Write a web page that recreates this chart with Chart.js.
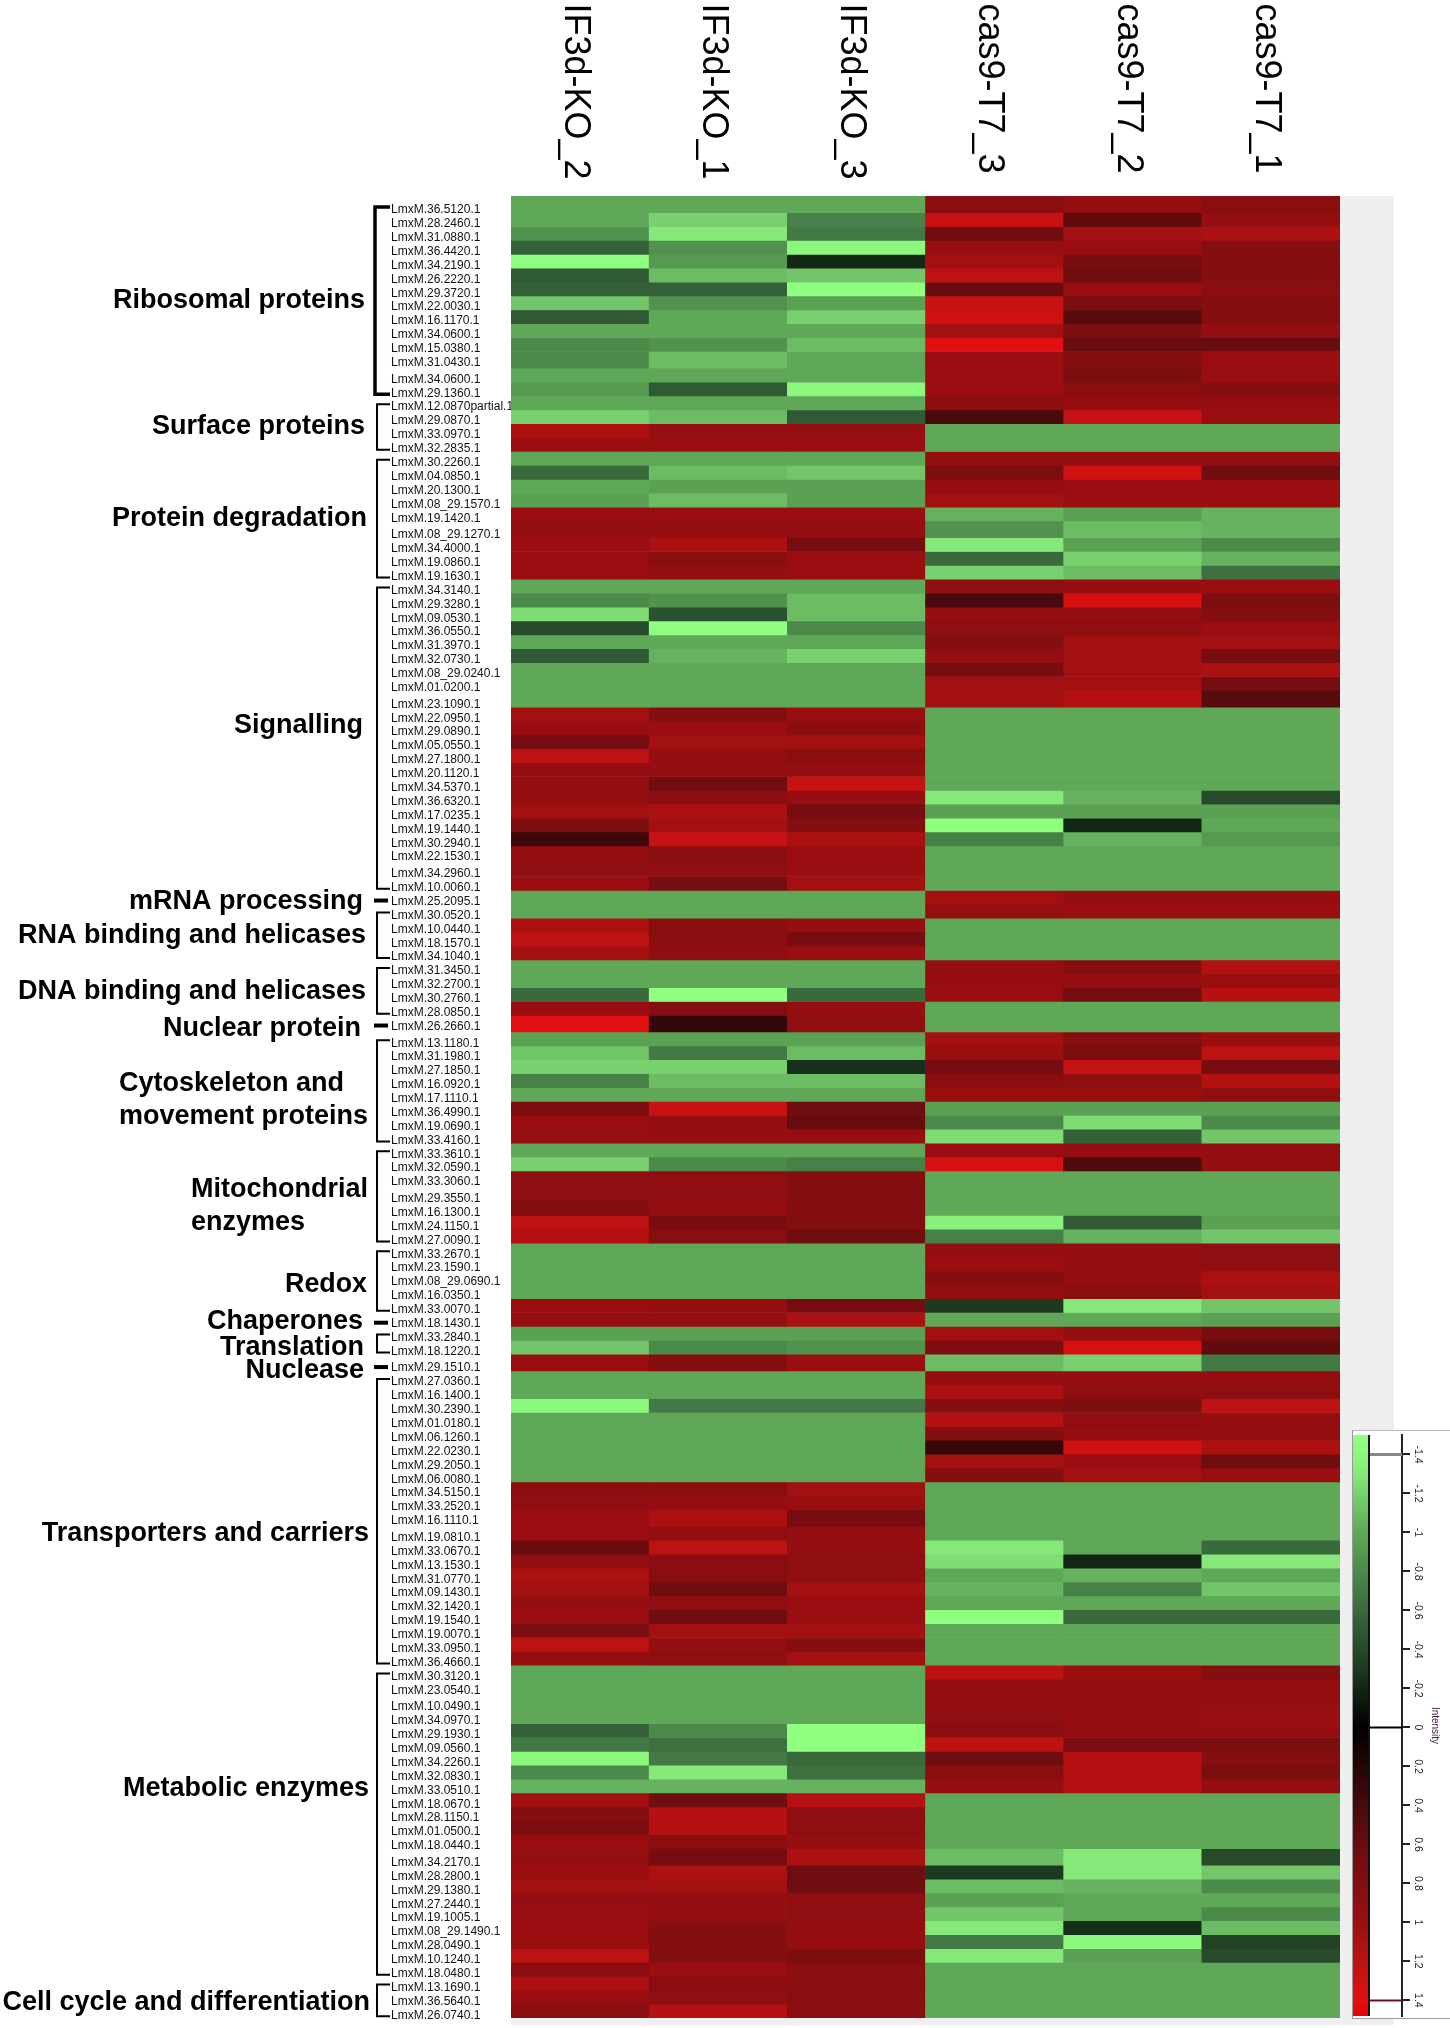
<!DOCTYPE html>
<html><head><meta charset="utf-8"><title>Heatmap</title>
<script src="https://cdn.jsdelivr.net/npm/chart.js@4"></script>
<style>
html,body{margin:0;padding:0;background:#fff}
#wrap{position:relative;width:1450px;height:2028px;overflow:hidden}
#panel{position:absolute;left:511px;top:196px;width:883px;height:1829px;background:#efefef}
#main{position:absolute;left:0;top:0}
#legendBox{position:absolute;left:1352px;top:1430px;width:98px;height:589px;background:#fff;border-left:1px solid #999;border-top:1px solid #bbb;border-bottom:1px solid #999;box-sizing:border-box}
#legend{position:absolute;left:0;top:0}
</style></head><body>
<div id="wrap"><div id="panel"></div><canvas id="main" width="1450" height="2028"></canvas>
<div id="legendBox"><canvas id="legend" width="97" height="587"></canvas></div></div>
<script>
const samples=["IF3d-KO_2","IF3d-KO_1","IF3d-KO_3","cas9-T7_3","cas9-T7_2","cas9-T7_1"];
const groupNames=["Ribosomal proteins","Surface proteins","Protein degradation","Signalling","mRNA processing","RNA binding and helicases","DNA binding and helicases","Nuclear protein","Cytoskeleton and\nmovement proteins","Mitochondrial\nenzymes","Redox","Chaperones","Translation","Nuclease","Transporters and carriers","Metabolic enzymes","Cell cycle and differentiation"];

const genesRibosomal=["36.5120.1","28.2460.1","31.0880.1","36.4420.1","34.2190.1","26.2220.1","29.3720.1","22.0030.1","16.1170.1","34.0600.1","15.0380.1","31.0430.1","34.0600.1","29.1360.1"];
const valuesRibosomal=[[-1,-1,-1,.85,.95,.85],[-1,-1.2,-.75,1.25,.55,.95],[-.85,-1.3,-.7,.65,1.05,1.1],[-.55,-.85,-1.4,.95,1,.8],[-1.45,-.9,-.2,1.05,.7,.8],[-.5,-1.1,-1.15,1.2,.65,.8],[-.55,-.55,-1.45,.6,1,.85],[-1.15,-.85,-.95,1.25,.75,.8],[-.5,-1,-1.2,1.3,.5,.8],[-1,-1,-1,1.05,.75,.95],[-.8,-.85,-1.1,1.4,.6,.6],[-.8,-1.1,-1,1,.8,1],[-1,-1,-1,1,.75,1],[-.9,-.5,-1.4,1,.85,.8]];
const genesSurface=["12.0870partial.1","29.0870.1","33.0970.1","32.2835.1"];
const valuesSurface=[[-1,-1,-1,.85,.95,.95],[-1.2,-1.1,-.5,.4,1.25,1],[1.1,.95,.95,-1,-1,-1],[1,1,1,-1,-1,-1]];
const genesDegradation=["30.2260.1","04.0850.1","20.1300.1","08_29.1570.1","19.1420.1","08_29.1270.1","34.4000.1","19.0860.1","19.1630.1"];
const valuesDegradation=[[-1,-1,-1,.95,.95,.95],[-.6,-1.1,-1.15,.75,1.3,.65],[-1,-.95,-.95,.95,1,1],[-.95,-1.1,-.95,1.05,1,1],[1,1,1,-1.05,-.95,-1.05],[.95,.95,.95,-.85,-1.1,-1.05],[1,1.1,.7,-1.3,-.95,-.8],[1,.85,1,-.6,-1.2,-1.05],[1,.95,1,-1.2,-1.1,-.65]];
const genesSignalling=["34.3140.1","29.3280.1","09.0530.1","36.0550.1","31.3970.1","32.0730.1","08_29.0240.1","01.0200.1","23.1090.1","22.0950.1","29.0890.1","05.0550.1","27.1800.1","20.1120.1","34.5370.1","36.6320.1","17.0235.1","19.1440.1","30.2940.1","22.1530.1","34.2960.1","10.0060.1"];
const valuesSignalling=[[-1,-1,-1,.9,.95,1],[-.8,-.85,-1.1,.4,1.35,.75],[-1.25,-.45,-1.1,.95,.95,.8],[-.4,-1.45,-.8,.9,.9,1],[-1,-1,-1,.8,1.05,1.05],[-.5,-1.05,-1.2,.95,1.05,.7],[-1,-1,-1,.7,1.05,1.1],[-1,-1,-1,1.05,1.05,.7],[-1,-1,-1,1.05,1.15,.5],[1.05,.8,1,-1,-1,-1],[1,1,.85,-1,-1,-1],[.7,1.05,1.05,-1,-1,-1],[1.2,.95,.85,-1,-1,-1],[.95,.95,.95,-1,-1,-1],[.95,.65,1.25,-1,-1,-1],[.95,.85,.95,-1.3,-1.05,-.4],[1.05,1.1,.7,-.95,-.95,-.95],[.75,1.05,.8,-1.45,-.2,-1],[.35,1.25,1.1,-.75,-1.05,-.9],[.95,.85,1,-1,-1,-1],[.9,.9,1,-1,-1,-1],[1,.7,1.05,-1,-1,-1]];
const genesMrna=["25.2095.1"];
const valuesMrna=[[-1,-1,-1,1.05,.95,.95]];
const genesRna=["30.0520.1","10.0440.1","18.1570.1","34.1040.1"];
const valuesRna=[[-1,-1,-1,.95,1,1],[1.1,.85,.95,-1,-1,-1],[1.2,.85,.7,-1,-1,-1],[1.05,.9,1,-1,-1,-1]];
const genesDna=["31.3450.1","32.2700.1","30.2760.1","28.0850.1"];
const valuesDna=[[-1,-1,-1,.95,.8,1.15],[-1,-1,-1,.95,.95,1],[-.6,-1.45,-.6,1,.7,1.15],[1,.8,.95,-1,-1,-1]];
const genesNuclear=["26.2660.1"];
const valuesNuclear=[[1.4,.3,.9,-1,-1,-1]];
const genesCyto=["13.1180.1","31.1980.1","27.1850.1","16.0920.1","17.1110.1","36.4990.1","19.0690.1","33.4160.1"];
const valuesCyto=[[-.95,-.95,-.95,1.05,.8,1],[-1.15,-.7,-1.1,1,.75,1.2],[-1.2,-1.2,-.25,.7,1.25,.7],[-.75,-1.1,-1.1,.85,.9,1.15],[-1,-1,-1,1,1,.9],[.75,1.25,.65,-.95,-.95,-.95],[1,.95,.6,-.8,-1.25,-.8],[.95,.95,.95,-1.25,-.55,-1.15]];
const genesMito=["33.3610.1","32.0590.1","33.3060.1","29.3550.1","16.1300.1","24.1150.1","27.0090.1"];
const valuesMito=[[-1,-1,-1,1,.95,.95],[-1.2,-.8,-.75,1.35,.45,.95],[.9,.9,.8,-1,-1,-1],[.9,.9,.8,-1,-1,-1],[.8,.95,.8,-1,-1,-1],[1.2,.7,.8,-1.35,-.5,-.95],[1.15,.85,.65,-.75,-1.05,-1.15]];
const genesRedox=["33.2670.1","23.1590.1","08_29.0690.1","16.0350.1","33.0070.1"];
const valuesRedox=[[-1,-1,-1,.95,.95,.9],[-1,-1,-1,1,.95,.9],[-1,-1,-1,.8,.95,1.1],[-1,-1,-1,.95,.85,1.05],[1,.95,.7,-.3,-1.3,-1.15]];
const genesChaperones=["18.1430.1"];
const valuesChaperones=[[.95,.95,1.1,-1,-1,-.95]];
const genesTranslation=["33.2840.1","18.1220.1"];
const valuesTranslation=[[-.95,-.95,-.95,1.05,.95,.7],[-1.15,-.8,-.85,.75,1.35,.55]];
const genesNuclease=["29.1510.1"];
const valuesNuclease=[[1,.8,1,-1.1,-1.2,-.7]];
const genesTransporters=["27.0360.1","16.1400.1","30.2390.1","01.0180.1","06.1260.1","22.0230.1","29.2050.1","06.0080.1","34.5150.1","33.2520.1","16.1110.1","19.0810.1","33.0670.1","13.1530.1","31.0770.1","09.1430.1","32.1420.1","19.1540.1","19.0070.1","33.0950.1","36.4660.1"];
const valuesTransporters=[[-1,-1,-1,.95,.95,.95],[-1,-1,-1,1.1,.9,.9],[-1.4,-.7,-.7,.8,.75,1.2],[-1,-1,-1,1.15,.9,.95],[-1,-1,-1,.8,.95,.95],[-1,-1,-1,.3,1.3,1.1],[-1,-1,-1,1.05,1,.65],[-1,-1,-1,.8,1.05,1],[.85,.85,1.05,-1,-1,-1],[.9,.95,1,-1,-1,-1],[1,1.1,.7,-1,-1,-1],[1,.9,.95,-1,-1,-1],[.6,1.2,.95,-1.3,-1,-.6],[.9,.85,.9,-1.25,-.2,-1.3],[1.1,.85,.9,-1,-1.05,-1],[1.05,.65,1.05,-1.05,-.75,-1.15],[.95,.9,1,-1,-1,-1],[1,.65,1,-1.45,-.6,-.6],[.75,1.05,1.05,-1,-1,-1],[1.2,.95,.8,-1,-1,-1],[.95,.9,1.05,-1,-1,-1]];
const genesMetabolic=["30.3120.1","23.0540.1","10.0490.1","34.0970.1","29.1930.1","09.0560.1","34.2260.1","32.0830.1","33.0510.1","18.0670.1","28.1150.1","01.0500.1","18.0440.1","34.2170.1","28.2800.1","29.1380.1","27.2440.1","19.1005.1","08_29.1490.1","28.0490.1","10.1240.1","18.0480.1"];
const valuesMetabolic=[[-1,-1,-1,1.2,1,.8],[-1,-1,-1,.95,.95,.95],[-1,-1,-1,.95,.95,.95],[-1,-1,-1,.9,.95,1],[-.55,-.8,-1.45,.85,.95,.95],[-.7,-.65,-1.45,1.2,.75,.75],[-1.4,-.7,-.6,.65,1.15,.8],[-.8,-1.3,-.65,.85,1.15,.75],[-1.05,-1.05,-1.05,.95,1.15,.95],[1.05,.65,1.15,-1,-1,-1],[.8,1.15,.9,-1,-1,-1],[.75,1.15,.9,-1,-1,-1],[1,.85,.95,-1,-1,-1],[.95,.7,1.1,-1.1,-1.3,-.4],[1,1.1,.65,-.3,-1.3,-1.15],[1.05,1.05,.65,-1.1,-1.05,-.8],[.95,.95,.9,-.95,-1,-1],[1,.95,.9,-1.15,-1,-.8],[1,.8,.95,-1.3,-.25,-1.1],[1,.8,.95,-.7,-1.4,-.35],[1.2,.8,.75,-1.3,-.95,-.4],[.85,1,.85,-1,-1,-1]];
const genesCellCycle=["13.1690.1","36.5640.1","26.0740.1"];
const valuesCellCycle=[[1.1,.85,.85,-1,-1,-1],[1,.9,.85,-1,-1,-1],[.85,1.15,.85,-1,-1,-1]];
const legendTicks=[-1.4,-1.2,-1,-.8,-.6,-.4,-.2,0,.2,.4,.6,.8,1,1.2,1.4];
const legendMarks=[-1.4,0,1.4];

const groupGenes=[genesRibosomal,genesSurface,genesDegradation,genesSignalling,genesMrna,genesRna,genesDna,genesNuclear,genesCyto,genesMito,genesRedox,genesChaperones,genesTranslation,genesNuclease,genesTransporters,genesMetabolic,genesCellCycle];
const groupValues=[valuesRibosomal,valuesSurface,valuesDegradation,valuesSignalling,valuesMrna,valuesRna,valuesDna,valuesNuclear,valuesCyto,valuesMito,valuesRedox,valuesChaperones,valuesTranslation,valuesNuclease,valuesTransporters,valuesMetabolic,valuesCellCycle];
const genes=groupGenes.flat().map(g=>"LmxM."+g);
const matrix=groupValues.flat();

/* layout only: row pitch quirks of the source figure */
const tallRows=new Set([0,11,23,35,46,58,69,82,93,105,117]);
const lowLabelRows=new Set([0,23,35,82,117]);
const rowSpan=i=>tallRows.has(i)?1.2:1;
const rowStart=[];let total=0;genes.forEach((g,i)=>{rowStart.push(total);total+=rowSpan(i);});
const labelPos=i=>rowStart[i]+(lowLabelRows.has(i)?1:.805);

const greenStops=[[0,[0,0,0]],[.3,[28,58,32]],[.5,[47,90,51]],[.65,[63,112,64]],[.8,[75,138,75]],[.9,[85,154,80]],[1,[95,168,88]],[1.1,[108,188,99]],[1.2,[120,208,111]],[1.3,[133,232,120]],[1.45,[144,255,128]],[1.5,[147,255,130]]];
const redStops=[[0,[0,0,0]],[.4,[72,10,12]],[.65,[112,13,16]],[.85,[138,14,16]],[1,[154,14,18]],[1.1,[172,17,18]],[1.25,[198,18,18]],[1.4,[224,16,16]],[1.5,[230,0,0]]];
function ramp(v){const s=v<0?greenStops:redStops,a=Math.abs(v);
 for(let i=1;i<s.length;i++){if(a<=s[i][0]){const t=(a-s[i-1][0])/(s[i][0]-s[i-1][0]);
  const c=s[i-1][1].map((q,k)=>Math.round(q+(s[i][1][k]-q)*t));return `rgb(${c[0]},${c[1]},${c[2]})`;}}
 const l=s[s.length-1][1];return `rgb(${l[0]},${l[1]},${l[2]})`;}

const font='"Liberation Sans", Arial, sans-serif';
/* [x, anchor, y, fitted width] for each line of the group captions */
const captionLayout=[
 [[365,'right',300.5,253]],[[365,'right',426.5,214]],[[367,'right',518.5,257]],[[363,'right',725.5,131]],
 [[363,'right',901.5,236]],[[366,'right',935.5,350]],[[366,'right',992,350]],[[361,'right',1028.5,198]],
 [[119,'left',1083.5,226],[119,'left',1116.5,250]],[[191,'left',1189.5,178],[191,'left',1222.5,114]],
 [[367,'right',1284.5,82]],[[363,'right',1321.5,162]],[[364,'right',1347.5,145]],[[364,'right',1370.5,120]],
 [[369,'right',1534,330]],[[369,'right',1788.5,247]],[[370,'right',2002.5,368]]];

const annotate={id:'annotate',afterDraw(chart){
 const c=chart.ctx,y=chart.scales.y;let first=0;
 c.save();c.fillStyle='#000';c.strokeStyle='#000';c.textBaseline='middle';c.font='bold 27px '+font;
 groupGenes.forEach((g,gi)=>{
  const last=first+g.length-1,y0=y.getPixelForValue(labelPos(first)),y1=y.getPixelForValue(labelPos(last));
  const lw=gi===0?3.5:2;
  if(g.length===1){c.fillRect(374,y0-3,14,4);}
  else{const xv=gi===0?375:377;c.lineWidth=lw;c.beginPath();c.moveTo(390,y0-3);c.lineTo(xv,y0-3);c.lineTo(xv,y1+1);c.lineTo(390,y1+1);c.stroke();}
  groupNames[gi].split("\n").forEach((line,li)=>{const [x,anchor,py,w]=captionLayout[gi][li];c.textAlign=anchor;c.fillText(line,x,py,w);});
  first=last+1;});
 c.restore();}};

const datasets=matrix.map((row,i)=>({label:genes[i],intensity:row,data:samples.map(()=>rowSpan(i)),backgroundColor:row.map(ramp),borderWidth:0,barPercentage:1,categoryPercentage:1}));
new Chart(document.getElementById('main'),{type:'bar',data:{labels:samples,datasets},plugins:[annotate],options:{
 responsive:false,animation:false,devicePixelRatio:1,
 layout:{padding:{left:391,right:110,top:0,bottom:10}},
 plugins:{legend:{display:false},title:{display:false},tooltip:{enabled:false}},
 scales:{
  x:{type:'category',position:'top',stacked:true,grid:{display:false},border:{display:false},
   ticks:{font:{family:font,size:36},color:'#000',minRotation:-90,maxRotation:-90,padding:184.5,labelOffset:-48.5,autoSkip:false},
   afterFit(s){s.height=196;s.paddingLeft=0;s.paddingRight=0;}},
  y:{type:'linear',position:'left',stacked:true,reverse:true,min:0,max:total,grid:{display:false},border:{display:false},
   afterBuildTicks(s){s.ticks=genes.map((g,i)=>({value:labelPos(i)}));},
   afterFit(s){s.width=120;s.paddingTop=0;s.paddingBottom=0;},
   ticks:{autoSkip:false,crossAlign:'far',padding:0,font:{family:font,size:12},color:'#111',callback:(v,i)=>genes[i]}}
 }}});

const legendLines=legendMarks.map((m,i)=>({type:'line',data:[{x:16,y:m},{x:49,y:m}],borderColor:['#888','#000','#6a1020'][i],borderWidth:[3,2,2][i],pointRadius:0,order:1}));
new Chart(document.getElementById('legend'),{type:'bar',data:{datasets:[
 {type:'bar',data:[{x:7.5,y:[-1.5,1.48]}],barThickness:15,borderWidth:0,
  backgroundColor(ctx){const a=ctx.chart.chartArea;if(!a)return '#000';const sc=ctx.chart.scales.y,g=ctx.chart.ctx.createLinearGradient(0,sc.getPixelForValue(-1.5),0,sc.getPixelForValue(1.5));
   for(let k=0;k<=30;k++){const v=-1.5+k*.1;g.addColorStop(k/30,ramp(v));}return g;},order:2},
 {type:'line',data:[{x:16,y:-1.5},{x:16,y:1.48}],borderColor:'#111',borderWidth:2,pointRadius:0,order:1},
 ...legendLines]},options:{
 responsive:false,animation:false,devicePixelRatio:1,
 layout:{padding:{left:0,right:9,top:4,bottom:2}},
 plugins:{legend:{display:false},tooltip:{enabled:false}},
 scales:{
  x:{type:'linear',min:0,max:49,display:false,offset:false},
  y:{type:'linear',position:'right',reverse:true,min:-1.5,max:1.48,grid:{display:true,drawOnChartArea:false,drawTicks:true,tickLength:8,color:'#222',lineWidth:2},
   border:{display:true,color:'#222',width:2},
   afterBuildTicks(s){s.ticks=legendTicks.map(v=>({value:v}));},
   afterFit(s){s.width=39;s.paddingTop=0;s.paddingBottom=0;},
   title:{display:true,text:'Intensity',color:'#402040',font:{family:font,size:10},padding:0},
   ticks:{autoSkip:false,minRotation:-90,maxRotation:-90,crossAlign:'center',padding:-1,color:'#222',font:{family:font,size:10.5},callback:v=>String(Number(v.toFixed(1)))}}
 }}});
</script></body></html>
